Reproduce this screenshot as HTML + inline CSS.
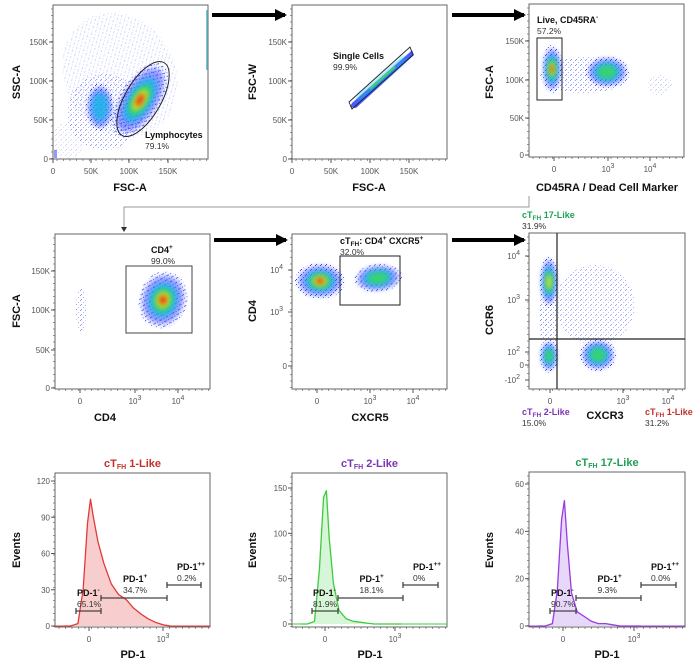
<!DOCTYPE html>
<html><head><meta charset="utf-8"><style>
html,body{margin:0;padding:0;background:#fff;}
svg{display:block;font-family:"Liberation Sans",Arial,sans-serif;}
.tk{font-size:8px;fill:#555;}
.at{font-size:11px;font-weight:bold;fill:#111;}
.gl{font-size:9px;font-weight:bold;fill:#111;}
.gp{font-size:8.5px;fill:#333;}
</style></head><body>
<svg id="fig" width="700" height="666" viewBox="0 0 700 666" xmlns="http://www.w3.org/2000/svg">
<defs>
<filter id="bl" x="-50%" y="-50%" width="200%" height="200%"><feGaussianBlur stdDeviation="2.5"/></filter>
<pattern id="dots" width="5" height="5" patternUnits="userSpaceOnUse"><rect x="0" y="0" width="1" height="1" fill="#2233ff"/><rect x="3" y="2" width="1" height="1" fill="#4466ff"/><rect x="1" y="4" width="1" height="1" fill="#1a2aee"/></pattern>
<marker id="ah" markerUnits="userSpaceOnUse" markerWidth="12" markerHeight="12" refX="10" refY="6" orient="auto"><path d="M0,0 L12,6 L0,12 z" fill="#000"/></marker>
</defs>
<g id="root"></g>
</svg>
<script>
// ---- histogram data (x in display units: 0 = zero, 1 = 10^3; y = events) ----
const histU = [-0.35,-0.25,-0.15,-0.08,-0.02,0.02,0.06,0.12,0.2,0.3,0.4,0.5,0.6,0.7,0.8,0.9,1.0,1.1];
const hist1Counts = [0,0,2,30,85,105,90,70,52,35,26,22,15,10,6,3,1,0];
const hist2Counts = [0,0,3,60,140,147,95,45,15,6,3,2,1,0,0,0,0,0];
const hist3Counts = [0,0,1,15,45,53,35,14,6,4,2,1,1,0.5,0,0,0,0];
const hist1Ticks = [0,30,60,90,120];
const hist2Ticks = [0,50,100,150];
const hist3Ticks = [0,20,40,60];

const root=document.getElementById('root');
const NS='http://www.w3.org/2000/svg';
function el(tag,attrs,parent,text){const e=document.createElementNS(NS,tag);for(const k in attrs)e.setAttribute(k,attrs[k]);if(text!==undefined)e.textContent=text;(parent||root).appendChild(e);return e;}

function box(x0,y0,x1,y1,name){
  const g=el('g',{});
  
  
  el('rect',{x:x0,y:y0,width:x1-x0,height:y1-y0,fill:'none',stroke:'#666','stroke-width':1},g);
  for(let y=y0+4;y<y1;y+=6.5) el('line',{x1:x0-2,y1:y,x2:x0,y2:y,stroke:'#666','stroke-width':0.7},g);
  for(let x=x0+4;x<x1;x+=6.5) el('line',{x1:x,y1:y1,x2:x,y2:y1+2,stroke:'#666','stroke-width':0.7},g);
  return g;
}
function ytick(x0,y,label,g){el('line',{x1:x0-4,y1:y,x2:x0,y2:y,stroke:'#555'},g);el('text',{x:x0-5,y:y+3,'text-anchor':'end',class:'tk'},g,label);}
function xtick(x,y1,label,g,sup){el('line',{x1:x,y1:y1,x2:x,y2:y1+4,stroke:'#555'},g);const t=el('text',{x:x,y:y1+15,'text-anchor':'middle',class:'tk'},g,label);if(sup){el('tspan',{dy:-4,'font-size':'7px'},t,sup);}}
function ytickS(x0,y,label,g,sup){el('line',{x1:x0-4,y1:y,x2:x0,y2:y,stroke:'#555'},g);const t=el('text',{x:x0-9,y:y+3,'text-anchor':'end',class:'tk'},g,label);if(sup){el('tspan',{dy:-4,'font-size':'7px'},t,sup);}}
function xtitle(x,y,txt,name){const t=el('text',{x:x,y:y,'text-anchor':'middle',class:'at'},root,txt);}
function ytitle(x,y,txt,name){const t=el('text',{x:x,y:y,'text-anchor':'middle',class:'at',transform:`rotate(-90 ${x} ${y})`},root,txt);}
function blob(g,cx,cy,rx,ry,rot,scale){
  const cols=[['url(#dots)',1,0.9],['#2a3cff',0.85,0.5],['#19b8e8',0.6,0.8],['#38d860',0.42,0.85],['#e8e020',0.28,0.85],['#f03010',0.16,0.9]];
  const sc=scale||6;
  cols.slice(0,sc).forEach((c,i)=>{
    el('ellipse',{cx:cx,cy:cy,rx:rx*c[1],ry:ry*c[1],fill:c[0],opacity:c[2],transform:`rotate(${rot} ${cx} ${cy})`,filter:i==0?'':'url(#bl)'},g);
  });
}
function haze(g,cx,cy,rx,ry,rot,op){
  el('ellipse',{cx:cx,cy:cy,rx:rx,ry:ry,fill:'url(#dots)',opacity:op,transform:`rotate(${rot} ${cx} ${cy})`},g);
}
function gateLabel(x,y,g,main,sub,sup,pct,name,color){
  const t=el('text',{x:x,y:y,class:'gl'},g);
  
  
  if(color)t.setAttribute('style','fill:'+color);
  el('tspan',{},t,main);
  if(sub){el('tspan',{dy:2,'font-size':'6.5px'},t,sub);el('tspan',{dy:-2},t,'');}
  if(sup!==undefined&&sup!==''){el('tspan',{dy:-4,'font-size':'6.5px'},t,sup);el('tspan',{dy:4},t,'');}
  if(pct){el('text',{x:x,y:y+11,class:'gp'},g,pct);}
}

// ---------------- Panel 1 ----------------
let g=box(53,5,208,159,'lymphocyte-plot');
{const c=el('g',{},g);
 haze(c,120,75,55,65,-30,0.25);
 haze(c,105,112,38,38,0,0.45);
 haze(c,68,140,16,18,0,0.2);
 blob(c,100,107,14,24,0,3);
 blob(c,140,100,20,42,32,6);
 el('rect',{x:54,y:150,width:3,height:8,fill:'#2233ff',opacity:0.5},c);
 el('rect',{x:206,y:10,width:1.5,height:60,fill:'#18a8c0',opacity:0.6},c);
 el('ellipse',{cx:143,cy:99,rx:18,ry:42,fill:'none',stroke:'#222','stroke-width':1,transform:'rotate(30 143 99)'},g);}
ytick(53,42,'150K',g);ytick(53,81,'100K',g);ytick(53,120,'50K',g);ytick(53,159,'0',g);
xtick(53,159,'0',g);xtick(91,159,'50K',g);xtick(129,159,'100K',g);xtick(168,159,'150K',g);
gateLabel(145,138,g,'Lymphocytes','','', '79.1%','lymphocytes-gate-label');
ytitle(20,82,'SSC-A','y-axis-title-ssc-a');xtitle(130,191,'FSC-A','x-axis-title-fsc-a-1');

// ---------------- Panel 2 ----------------
g=box(292,5,447,159,'single-cells-plot');
el('polygon',{points:'352,103 409,53 412,50 414,55 356,108 350,107',fill:'#2a3cff',opacity:0.85},g);
el('line',{x1:358,y1:99,x2:405,y2:58,stroke:'#19b8e8','stroke-width':3,filter:'url(#bl)'},g);
el('line',{x1:370,y1:89,x2:395,y2:67,stroke:'#38d860','stroke-width':2},g);
el('polygon',{points:'349,102 410,47 413,55 352,109',fill:'none',stroke:'#222','stroke-width':0.9},g);
ytick(292,42,'150K',g);ytick(292,81,'100K',g);ytick(292,120,'50K',g);ytick(292,159,'0',g);
xtick(292,159,'0',g);xtick(331,159,'50K',g);xtick(370,159,'100K',g);xtick(409,159,'150K',g);
gateLabel(333,59,g,'Single Cells','','', '99.9%','single-cells-gate-label');
ytitle(256,82,'FSC-W','y-axis-title-fsc-w');xtitle(369,191,'FSC-A','x-axis-title-fsc-a-2');

// ---------------- Panel 3 ----------------
g=box(529,4,684,157,'live-cd45ra-plot');
haze(g,585,75,45,18,0,0.5);
haze(g,660,85,12,10,0,0.25);
blob(g,607,72,22,16,0,4);
blob(g,552,69,10,24,0,6);
el('rect',{x:537,y:38,width:25,height:62,fill:'none',stroke:'#222','stroke-width':1},g);
ytick(529,41,'150K',g);ytick(529,80,'100K',g);ytick(529,118,'50K',g);ytick(529,155,'0',g);
xtick(554,157,'0',g);xtick(608,157,'10',g,'3');xtick(650,157,'10',g,'4');
gateLabel(537,23,g,'Live, CD45RA','','-','57.2%','live-cd45ra-gate-label');
ytitle(493,82,'FSC-A','y-axis-title-fsc-a-3');xtitle(607,191,'CD45RA / Dead Cell Marker','x-axis-title-cd45ra');

for(const a of [[212,285,15],[452,524,15],[214,286,240],[452,524,240]]){
  const l=el('line',{x1:a[0],y1:a[2],x2:a[1],y2:a[2],stroke:'#000','stroke-width':4,'marker-end':'url(#ah)'});
  
}
{const p=el('polyline',{points:'529,196 529,207 124,207 124,229',fill:'none',stroke:'#999','stroke-width':1});
 el('path',{d:'M121,227 L127,227 L124,232 z',fill:'#333'});}

// ---------------- Panel 4 ----------------
g=box(55,234,210,389,'cd4-plot');
haze(g,81,310,5,22,0,0.5);
blob(g,163,300,24,29,15,6);
el('rect',{x:126,y:266,width:66,height:67,fill:'none',stroke:'#444','stroke-width':1},g);
ytick(55,271,'150K',g);ytick(55,310,'100K',g);ytick(55,350,'50K',g);ytick(55,388,'0',g);
xtick(80,389,'0',g);xtick(135,389,'10',g,'3');xtick(178,389,'10',g,'4');
gateLabel(151,253,g,'CD4','','+','99.0%','cd4-gate-label');
ytitle(20,311,'FSC-A','y-axis-title-fsc-a-4');xtitle(105,421,'CD4','x-axis-title-cd4');

// ---------------- Panel 5 ----------------
g=box(292,234,447,389,'cxcr5-plot');
blob(g,378,278,24,14,-5,4);
blob(g,320,281,25,18,0,6);
el('rect',{x:340,y:256,width:60,height:49,fill:'none',stroke:'#222','stroke-width':1},g);
ytickS(292,270,'10',g,'4');ytickS(292,312,'10',g,'3');ytick(292,366,'0',g);
xtick(317,389,'0',g);xtick(370,389,'10',g,'3');xtick(413,389,'10',g,'4');
{const t=el('text',{x:340,y:244,class:'gl'},g);
 el('tspan',{},t,'cT');el('tspan',{dy:2,'font-size':'6.5px'},t,'FH');el('tspan',{dy:-2},t,': CD4');el('tspan',{dy:-4,'font-size':'6.5px'},t,'+');el('tspan',{dy:4},t,' CXCR5');el('tspan',{dy:-4,'font-size':'6.5px'},t,'+');
 el('text',{x:340,y:255,class:'gp'},g,'32.0%');}
ytitle(256,311,'CD4','y-axis-title-cd4');xtitle(370,421,'CXCR5','x-axis-title-cxcr5');

// ---------------- Panel 6 ----------------
g=box(529,233,685,389,'ccr6-cxcr3-plot');
haze(g,595,305,40,40,0,0.4);
haze(g,549,315,9,58,0,0.55);
blob(g,549,282,9,26,0,5);
blob(g,549,356,9,16,0,4);
blob(g,598,355,18,16,0,4);
el('line',{x1:557,y1:233,x2:557,y2:389,stroke:'#222','stroke-width':1.2},g);
el('line',{x1:529,y1:339,x2:685,y2:339,stroke:'#222','stroke-width':1.2},g);
ytickS(529,256,'10',g,'4');ytickS(529,300,'10',g,'3');ytickS(529,352,'10',g,'2');ytick(529,365,'0',g);ytickS(529,380,'-10',g,'2');
xtick(550,389,'0',g);xtick(623,389,'10',g,'3');xtick(668,389,'10',g,'4');
function ctfh(x,y,num,pct,color,name){const t=el('text',{x:x,y:y,class:'gl',style:'fill:'+color});
 el('tspan',{},t,'cT');el('tspan',{dy:2,'font-size':'6.5px'},t,'FH');el('tspan',{dy:-2},t,' '+num+'-Like');
 if(pct)el('text',{x:x,y:y+11,class:'gp'},root,pct);}
ctfh(522,218,'17','31.9%','#1fa055','ctfh17-quadrant-label');
ctfh(522,415,'2','15.0%','#7b35b5','ctfh2-quadrant-label');
ctfh(645,415,'1','31.2%','#c4302b','ctfh1-quadrant-label');
ytitle(493,320,'CCR6','y-axis-title-ccr6');xtitle(605,419,'CXCR3','x-axis-title-cxcr3');

// ---------------- Histograms ----------------
function hist(x0,x1,y0,y1,zeroX,kX,zeroY,maxV,maxY,counts,ticks,line,fill,name,title,titleColor,gx,pcts){
  const hg=box(x0,y0,x1,y1,name);
  const xs=u=>zeroX+u*(kX-zeroX);
  const ys=v=>zeroY-(v/maxV)*(zeroY-maxY);
  let d='';
  histU.forEach((u,i)=>{d+=(i?' L':'M')+xs(u).toFixed(1)+','+ys(counts[i]).toFixed(1);});
  const area=el('path',{d:d+` L${xs(histU[histU.length-1])},${zeroY} L${xs(histU[0])},${zeroY} Z`,fill:fill,opacity:0.55},hg);
  
  const ln=el('path',{d:d,fill:'none',stroke:line,'stroke-width':1.3,'stroke-linejoin':'round'},hg);
  
  el('line',{x1:x0,y1:zeroY,x2:xs(histU[0]),y2:zeroY,stroke:line,'stroke-width':1},hg);
  el('line',{x1:xs(histU[histU.length-1]),y1:zeroY,x2:x1,y2:zeroY,stroke:line,'stroke-width':1},hg);
  ticks.forEach(t=>ytick(x0,ys(t),String(t),hg));
  xtick(zeroX,y1,'0',hg);xtick(kX,y1,'10',hg,'3');
  const gates=[[gx[0],gx[1],611],[gx[1],gx[2],598],[gx[2],gx[3],585]];
  gates.forEach(gt=>{el('line',{x1:gt[0],y1:gt[2],x2:gt[1],y2:gt[2],stroke:'#444','stroke-width':1.3},hg);
    el('line',{x1:gt[0],y1:gt[2]-3,x2:gt[0],y2:gt[2]+3,stroke:'#444','stroke-width':1.3},hg);
    el('line',{x1:gt[1],y1:gt[2]-3,x2:gt[1],y2:gt[2]+3,stroke:'#444','stroke-width':1.3},hg);});
  gateLabel(gx[0]+1,596,hg,'PD-1','','-',pcts[0],'pd1-neg-gate-label');
  gateLabel((gx[1]+gx[2])/2-11,582,hg,'PD-1','','+',pcts[1],'pd1-pos-gate-label');
  gateLabel(gx[2]+10,570,hg,'PD-1','','++',pcts[2],'pd1-high-gate-label');
  const tt=el('text',{x:(x0+x1)/2,y:y0-6,'text-anchor':'middle',class:'at',style:'fill:'+titleColor});
  
  el('tspan',{},tt,'cT');el('tspan',{dy:2,'font-size':'7px'},tt,'FH');el('tspan',{dy:-2},tt,' '+title);
}
hist(55,210,473,627,89,163,626,120,481,hist1Counts,hist1Ticks,'#e23a3a','#f2a4a4','cthf1-pd1-histogram','1-Like','#c4302b',[76,101,167,201],['65.1%','34.7%','0.2%']);
hist(292,447,473,627,325,395,624,150,488,hist2Counts,hist2Ticks,'#3ecb3e','#b6ecb6','cthf2-pd1-histogram','2-Like','#7b35b5',[312,338,403,438],['81.9%','18.1%','0%']);
hist(529,685,472,627,563,634,626,60,484,hist3Counts,hist3Ticks,'#9a3be2','#d3b6f2','cthf17-pd1-histogram','17-Like','#1fa055',[550,576,641,676],['90.7%','9.3%','0.0%']);
ytitle(20,550,'Events','y-axis-title-events-1');ytitle(256,550,'Events','y-axis-title-events-2');ytitle(493,550,'Events','y-axis-title-events-3');
xtitle(133,658,'PD-1','x-axis-title-pd1-1');xtitle(370,658,'PD-1','x-axis-title-pd1-2');xtitle(607,658,'PD-1','x-axis-title-pd1-3');
</script>
</body></html>
